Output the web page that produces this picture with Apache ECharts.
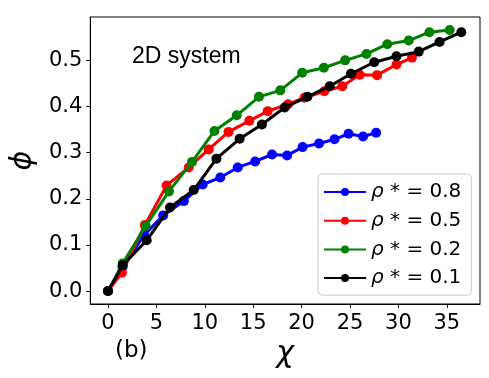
<!DOCTYPE html>
<html>
<head>
<meta charset="utf-8">
<style>
  html, body { margin: 0; padding: 0; background: #fff; }
  #chart { width: 489px; height: 378px; }
</style>
<script src="https://cdn.jsdelivr.net/npm/echarts@6/dist/echarts.min.js"></script>
</head>
<body>
<div id="chart"></div>
<script>
// ---- data ----
var rhoLabels = ['0.8', '0.5', '0.2', '0.1'];
var lineColors = ['#0000ff', '#ff0000', '#008000', '#000000'];

var chi08 = [0, 1.5, 3.73, 5.7, 7.83, 9.78, 11.6, 13.4, 15.2, 16.95, 18.5, 20.1, 21.8, 23.4, 24.85, 26.35, 27.7];
var phi08 = [0, 0.052, 0.121, 0.164, 0.195, 0.231, 0.246, 0.268, 0.281, 0.296, 0.294, 0.312, 0.320, 0.329, 0.341, 0.335, 0.343];

var chi05 = [0, 1.44, 3.8, 6.05, 8.34, 10.4, 12.45, 14.6, 16.5, 18.6, 20.3, 22.35, 24.2, 26.0, 27.8, 29.8, 31.4];
var phi05 = [0, 0.040, 0.143, 0.229, 0.268, 0.307, 0.345, 0.369, 0.390, 0.405, 0.419, 0.433, 0.444, 0.469, 0.468, 0.491, 0.506];

var chi02 = [0, 1.52, 3.9, 6.3, 8.68, 11.0, 13.3, 15.6, 17.8, 20.06, 22.3, 24.5, 26.7, 28.85, 31.07, 33.2, 35.3];
var phi02 = [0, 0.060, 0.141, 0.216, 0.280, 0.347, 0.381, 0.421, 0.435, 0.473, 0.484, 0.500, 0.514, 0.535, 0.543, 0.561, 0.566];

var chi01 = [0, 1.52, 4.0, 6.4, 8.85, 11.2, 13.6, 15.9, 18.25, 20.6, 22.9, 25.1, 27.5, 29.8, 32.1, 34.25, 36.5];
var phi01 = [0, 0.056, 0.110, 0.181, 0.219, 0.287, 0.330, 0.361, 0.398, 0.421, 0.444, 0.471, 0.496, 0.509, 0.519, 0.540, 0.561];

var xTicks = [0, 5, 10, 15, 20, 25, 30, 35];
var yTicks = [0, 0.1, 0.2, 0.3, 0.4, 0.5];

var chiSets = [chi08, chi05, chi02, chi01];
var phiSets = [phi08, phi05, phi02, phi01];

function pairs(xs, ys) {
    return xs.map(function (x, i) { return [x, ys[i]]; });
}

var chart = echarts.init(document.getElementById('chart'));
var font = '"DejaVu Sans", sans-serif';

var series = rhoLabels.map(function (r, k) {
    return {
        name: 'ρ* = ' + r,
        type: 'line',
        data: pairs(chiSets[k], phiSets[k]),
        symbol: 'circle',
        symbolSize: 10,
        showAllSymbol: true,
        lineStyle: { color: lineColors[k], width: 3 },
        itemStyle: { color: lineColors[k] },
        z: 2 + k
    };
});

option = {
    animation: false,
    backgroundColor: '#fff',
    grid: { left: 87, top: 17, width: 393, height: 287, show: true, borderColor: '#000', borderWidth: 1 },
    xAxis: {
        type: 'value',
        min: -1.83,
        max: 38.43,
        name: 'χ',
        nameLocation: 'middle',
        nameGap: 33,
        nameTextStyle: { fontFamily: font, fontStyle: 'italic', fontSize: 30, color: '#000' },
        axisLine: { show: true, onZero: false, lineStyle: { color: '#000', width: 1 } },
        axisTick: { show: true, length: 4, customValues: xTicks, lineStyle: { color: '#000' } },
        axisLabel: { customValues: xTicks, margin: 9, fontFamily: font, fontSize: 21, color: '#000' },
        splitLine: { show: false }
    },
    yAxis: {
        type: 'value',
        min: -0.028,
        max: 0.594,
        name: 'ϕ',
        nameLocation: 'middle',
        nameGap: 49,
        nameTextStyle: { fontFamily: font, fontStyle: 'italic', fontSize: 30, color: '#000' },
        axisLine: { show: true, onZero: false, lineStyle: { color: '#000', width: 1 } },
        axisTick: { show: true, length: 4, customValues: yTicks, lineStyle: { color: '#000' } },
        axisLabel: {
            customValues: yTicks, margin: 8, fontFamily: font, fontSize: 21, color: '#000',
            formatter: function (v) { return v.toFixed(1); }
        },
        splitLine: { show: false }
    },
    legend: {
        orient: 'vertical',
        left: 318,
        top: 174,
        padding: [8, 10, 7, 5],
        itemWidth: 42,
        itemHeight: 10,
        itemGap: 8.7,
        backgroundColor: '#fff',
        borderColor: '#cccccc',
        borderWidth: 1,
        borderRadius: 4,
        data: series.map(function (s) { return s.name; }),
        formatter: function (name) {
            return '{i|ρ}{n| ' + name.slice(1) + '}';
        },
        textStyle: {
            color: '#000',
            lineHeight: 20,
            rich: {
                i: { fontFamily: font, fontStyle: 'italic', fontSize: 20, lineHeight: 20 },
                n: { fontFamily: font, fontSize: 20, lineHeight: 20 }
            }
        }
    },
    graphic: [
        {
            type: 'text', left: 132, top: 45,
            style: { text: '2D system', font: '23px "Liberation Sans", Arial, sans-serif', fill: '#000' }
        },
        {
            type: 'text', left: 115, top: 340,
            style: { text: '(b)', font: '23px "DejaVu Sans", sans-serif', fill: '#000' }
        }
    ],
    series: series
};

if (option && typeof option === "object") {
    chart.setOption(option, true);
}
</script>
</body>
</html>
